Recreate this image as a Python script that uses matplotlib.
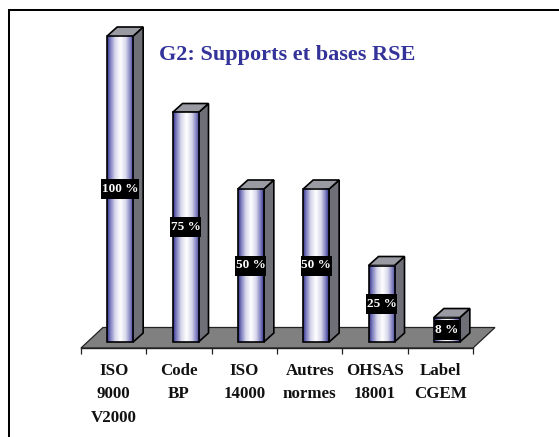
import numpy as np
import matplotlib
matplotlib.use("Agg")
import matplotlib.pyplot as plt
from matplotlib.colors import LinearSegmentedColormap
from matplotlib.patches import Polygon, Rectangle

categories = ["ISO\n9000\nV2000", "Code\nBP", "ISO\n14000", "Autres\nnormes", "OHSAS\n18001", "Label\nCGEM"]
values = [100, 75, 50, 50, 25, 8]
labels = ["100 %", "75 %", "50 %", "50 %", "25 %", "8 %"]
title = "G2: Supports et bases RSE"

W, H = 559, 437
plt.rcParams["font.family"] = ["Liberation Serif", "DejaVu Serif"]
fig = plt.figure(figsize=(W / 100, H / 100), dpi=100, facecolor="white")

# plot area: x 81..473 px, baseline 348 px, value 100 at 36 px
px_per_pct = 3.06
zero_px = 342
ax = fig.add_axes([81 / W, 1 - 348 / H, (473 - 81) / W, (348 - 36) / H])
ax.set_xlim(-0.5, 5.5)
ax.set_ylim(-(348 - zero_px) / px_per_pct, 100)
ax.patch.set_alpha(0)
for s in ("top", "left", "right"):
    ax.spines[s].set_visible(False)
ax.spines["bottom"].set_linewidth(1.0)
ax.spines["bottom"].set_color("#222222")

ux = 6 / (473 - 81)          # data units per px, x
uy = 1 / px_per_pct          # data units per px, y
dx, dy = 10 * ux, 9 * uy
bw = 26 * ux
shift = 6.5 * ux             # bars sit right of the category centre

# floor
base = ax.get_ylim()[0]
fdx, fdy = 22 * ux, 20.5 * uy
ax.add_patch(Polygon([(-0.5, base), (5.5, base), (5.5 + fdx, base + fdy), (-0.5 + fdx, base + fdy)],
                     closed=True, fc="#808080", ec="#222222", lw=0.9, clip_on=False, zorder=1))

cmap = LinearSegmentedColormap.from_list(
    "cyl", [(0, "#33338f"), (0.12, "#7f7fbf"), (0.3, "#d8d8ec"), (0.5, "#ffffff"),
            (0.7, "#d8d8ec"), (0.88, "#7f7fbf"), (1, "#33338f")])
grad = np.linspace(0, 1, 64).reshape(1, -1)

renderer = fig.canvas.get_renderer()
for i, v in enumerate(values):
    c = i + shift
    x0, x1 = c - bw / 2, c + bw / 2
    # side face
    ax.add_patch(Polygon([(x1, 0), (x1 + dx, dy), (x1 + dx, v + dy), (x1, v)],
                         closed=True, fc="#6f6f78", ec="black", lw=1.2, clip_on=False, zorder=3))
    # top face
    ax.add_patch(Polygon([(x0, v), (x1, v), (x1 + dx, v + dy), (x0 + dx, v + dy)],
                         closed=True, fc="#9a9aa2", ec="black", lw=1.2, clip_on=False, zorder=3))
    # front face
    ax.imshow(grad, cmap=cmap, extent=(x0, x1, 0, v), aspect="auto", zorder=3.5,
              clip_on=False, interpolation="bilinear")
    ax.add_patch(Rectangle((x0, 0), bw, v, fc="none", ec="black", lw=1.2, clip_on=False, zorder=4))
    # value label on a black box, 20 px high
    t = ax.text(c, v / 2, labels[i], color="white", fontsize=9.5, fontweight="bold",
                ha="center", va="center", zorder=6)
    w_px = t.get_window_extent(renderer).width + 1
    ax.add_patch(Rectangle((c - w_px * ux / 2, v / 2 - 10 * uy), w_px * ux, 20 * uy,
                           fc="black", ec="none", clip_on=False, zorder=5))

ax.set_xlim(-0.5, 5.5)
ax.set_ylim(-(348 - zero_px) / px_per_pct, 100)
ax.set_yticks([])
ax.set_xticks(range(len(categories)))
ax.set_xticklabels(categories, fontsize=12.2, fontweight="bold", color="#111111", linespacing=1.63)
ax.tick_params(axis="x", which="major", length=0, pad=10.5)
ax.set_xticks(np.arange(-0.5, 6, 1), minor=True)
ax.tick_params(axis="x", which="minor", length=4.5, width=0.9, color="#222222")

fig.text(287.5 / W, 1 - 55 / H, title, color="#333399", fontsize=16, fontweight="bold",
         ha="center", va="center")

# outer frame: top and left only
for xs, ys in [((8, 559), (10, 10)), ((9, 9), (9, 437))]:
    fig.add_artist(plt.Line2D([x / W for x in xs], [1 - y / H for y in ys], color="black", lw=1.45,
                              solid_capstyle="butt"))

fig.savefig("out.png", dpi=100)
